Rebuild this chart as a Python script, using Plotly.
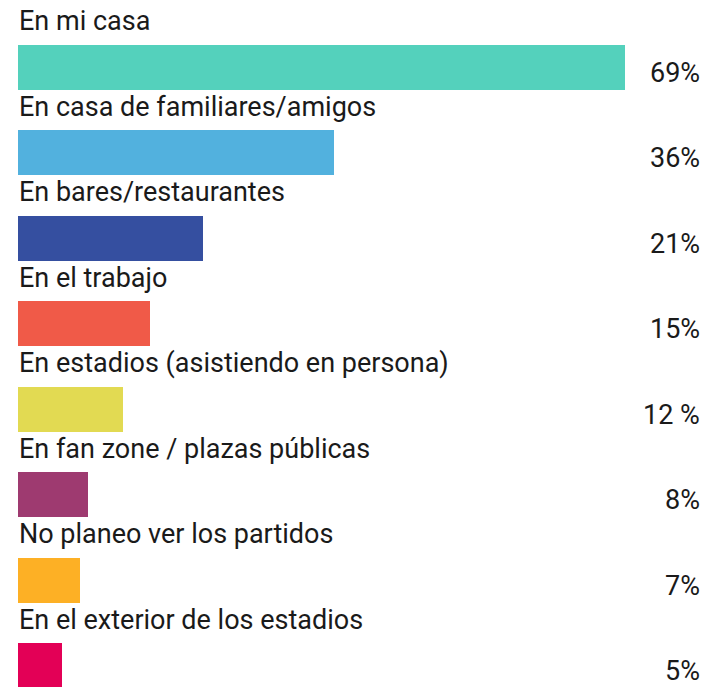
import plotly.graph_objects as go

categories = [
    "En mi casa",
    "En casa de familiares/amigos",
    "En bares/restaurantes",
    "En el trabajo",
    "En estadios (asistiendo en persona)",
    "En fan zone / plazas públicas",
    "No planeo ver los partidos",
    "En el exterior de los estadios",
]
values = [69, 36, 21, 15, 12, 8, 7, 5]
pct_labels = ["69%", "36%", "21%", "15%", "12 %", "8%", "7%", "5%"]
colors = ["#54D1BC", "#52B1DE", "#354FA0", "#F05A48",
          "#E2DA52", "#9E3A70", "#FDB025", "#E30056"]

W, H = 707, 687
left = 18
px_per_unit = 8.79
center0 = 67.0
pitch = 85.5
bar_h = 45.0

pos = list(range(len(categories)))

fig = go.Figure()
fig.add_trace(go.Bar(
    x=values, y=pos, orientation="h",
    marker=dict(color=colors, line=dict(width=0)),
    width=bar_h / pitch,
    hoverinfo="skip",
))

font_family = "Roboto, 'DejaVu Sans', sans-serif"
text_color = "#1a1a1a"
annotations = []
for i, (cat, lab) in enumerate(zip(categories, pct_labels)):
    annotations.append(dict(
        x=0, y=i, xref="x", yref="y", text=cat, showarrow=False,
        xanchor="left", yanchor="middle", yshift=46, xshift=-1,
        font=dict(family=font_family, size=27, color=text_color),
    ))
    annotations.append(dict(
        x=(702 - left) / (W - left), y=i, xref="paper", yref="y", text=lab,
        showarrow=False, xanchor="right", yanchor="middle", yshift=-5.5,
        font=dict(family=font_family, size=27, color=text_color),
    ))

fig.update_layout(
    width=W, height=H,
    margin=dict(l=left, r=0, t=0, b=0),
    paper_bgcolor="white", plot_bgcolor="white",
    showlegend=False,
    bargap=0,
    xaxis=dict(range=[0, (W - left) / px_per_unit], visible=False, fixedrange=True),
    yaxis=dict(range=[(H - center0) / pitch, -center0 / pitch], visible=False, fixedrange=True),
    annotations=annotations,
)

fig.write_html(
    "out.html",
    config={"displayModeBar": False},
    post_script="document.body.style.margin='0';document.body.style.overflow='hidden';",
)
